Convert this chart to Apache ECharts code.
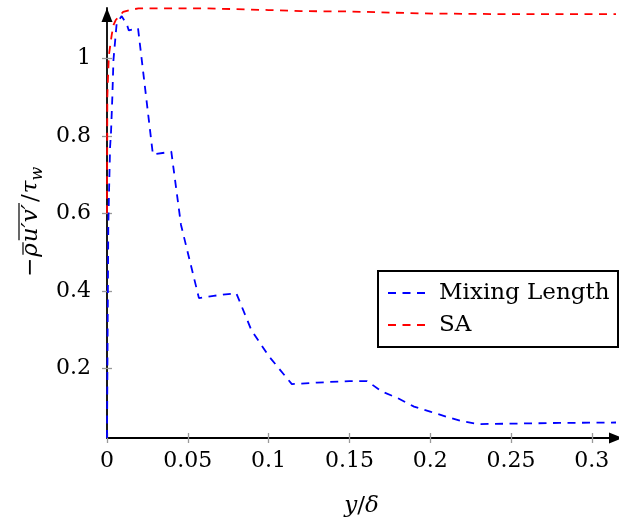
<!DOCTYPE html>
<html>
<head>
<meta charset="utf-8">
<script src="https://cdn.jsdelivr.net/npm/echarts@6/dist/echarts.min.js"></script>
<style>
  html, body { margin: 0; padding: 0; background: #fff; }
  #chart { width: 619px; height: 519px; }
</style>
</head>
<body>
<div id="chart"></div>
<script>
// Tick positions
const xTicks = [0, 0.05, 0.1, 0.15, 0.2, 0.25, 0.3];
const yTicks = [0.2, 0.4, 0.6, 0.8, 1];

// Reynolds shear stress profiles, [y/delta, -rho u'v' / tau_w]
const mixingLength = [
  [0, 0.02], [0.0004, 0.30], [0.0008, 0.565], [0.0012, 0.645], [0.0019, 0.771],
  [0.0025, 0.81], [0.0033, 0.90], [0.004, 0.996], [0.006, 1.091], [0.0091, 1.109],
  [0.0124, 1.086], [0.0135, 1.072], [0.0192, 1.078], [0.0284, 0.752], [0.0398, 0.759],
  [0.0458, 0.57], [0.0569, 0.381], [0.066, 0.387], [0.08, 0.394], [0.0893, 0.299],
  [0.1, 0.232], [0.1144, 0.159], [0.13, 0.163], [0.15, 0.167], [0.161, 0.167],
  [0.17, 0.140], [0.18, 0.123], [0.19, 0.101], [0.2, 0.088], [0.21, 0.075],
  [0.22, 0.063], [0.23, 0.056], [0.25, 0.057], [0.28, 0.059], [0.315, 0.06]
];
const spalartAllmaras = [
  [0, 0.6], [0.0002, 0.9], [0.0008, 0.97], [0.0012, 1.009], [0.0029, 1.06],
  [0.004, 1.086], [0.0054, 1.099], [0.01, 1.12], [0.0142, 1.125], [0.0195, 1.129],
  [0.06, 1.129], [0.08, 1.127], [0.1, 1.1247], [0.12, 1.122], [0.15, 1.121],
  [0.177, 1.118], [0.194, 1.116], [0.25, 1.114], [0.315, 1.114]
];
const seriesNames = ['Mixing Length', 'SA'];

const FONT = '"DejaVu Serif", serif';
const FS = 22;       // tick labels
const FS_TEXT = 23;  // titles and legend
const X_MIN = 0, X_MAX = 0.315, Y_MIN = 0.02, Y_MAX = 1.13;

const measureCtx = document.createElement('canvas').getContext('2d');
function textWidth(str, font) {
  measureCtx.font = font;
  return measureCtx.measureText(str).width;
}

// Rotated y-axis title: −ρ̄ overline(u′v′) / τ_w, laid out piece by piece
function buildYTitle() {
  const up = FS_TEXT + 'px ' + FONT;
  const it = 'italic ' + FS_TEXT + 'px ' + FONT;
  const sub = 'italic 16px ' + FONT;
  const pieces = [
    { s: '−', font: up, pad: 1 },
    { s: 'ρ', font: it, bar: -16, pad: 1 },
    { s: 'u′v′', font: it, bar: -20, pad: 2 },
    { s: '/', font: up, pad: 1 },
    { s: 'τ', font: it, pad: 0 },
    { s: 'w', font: sub, dy: 4, size: 16, pad: 0 }
  ];
  let total = 0;
  pieces.forEach(p => { p.w = textWidth(p.s, p.font); total += p.w + p.pad; });
  let cursor = -total / 2;
  const children = [];
  pieces.forEach(p => {
    const size = p.size || FS_TEXT;
    children.push({
      type: 'text', x: cursor, y: (p.dy || 0) - 0.346 * size,
      style: { text: p.s, font: p.font, fill: '#000', align: 'left', verticalAlign: 'middle',
               textAlign: 'left', textVerticalAlign: 'middle' }
    });
    if (p.bar !== undefined) {
      children.push({
        type: 'line',
        shape: { x1: cursor + 2, y1: p.bar, x2: cursor + p.w + 1, y2: p.bar },
        style: { stroke: '#000', lineWidth: 1.2 }
      });
    }
    cursor += p.w + p.pad;
  });
  return { type: 'group', x: 39, y: 222, rotation: Math.PI / 2, children: children };
}

const legendTextWidth = textWidth(seriesNames[0], FS_TEXT + 'px ' + FONT);

const richName = {
  t: { fontFamily: FONT, fontSize: FS_TEXT, lineHeight: 30, color: '#000' },
  i: { fontFamily: FONT, fontSize: FS_TEXT, lineHeight: 30, fontStyle: 'italic', color: '#000' }
};

const tickStyle = { color: '#999', width: 1.3 };
const labelStyle = { fontFamily: FONT, fontSize: FS, color: '#000' };

const chart = echarts.init(document.getElementById('chart'), null, { renderer: 'canvas' });
chart.setOption({
  animation: false,
  backgroundColor: '#fff',
  grid: { left: 107, right: 3, top: 8, bottom: 81, containLabel: false, outerBoundsMode: 'none' },
  graphic: { elements: [buildYTitle()] },
  xAxis: [
    {
      type: 'value', min: X_MIN, max: X_MAX, position: 'bottom',
      name: '{i|y}{t|/}{i|δ}', nameLocation: 'middle', nameGap: 53,
      nameTextStyle: { rich: richName },
      axisLine: {
        show: true, onZero: false,
        lineStyle: { color: '#000', width: 1.8 },
        symbol: ['none', 'triangle'], symbolSize: [11, 14], symbolOffset: [0, 0]
      },
      axisTick: { show: true, customValues: xTicks, length: 5, inside: false, lineStyle: tickStyle },
      axisLabel: Object.assign({ customValues: xTicks, margin: 12 }, labelStyle),
      splitLine: { show: false }
    },
    {
      type: 'value', min: X_MIN, max: X_MAX, position: 'bottom',
      axisLine: { show: false, onZero: false },
      axisTick: { show: true, customValues: xTicks, length: 5, inside: true, lineStyle: tickStyle },
      axisLabel: { show: false },
      splitLine: { show: false }
    }
  ],
  yAxis: [
    {
      type: 'value', min: Y_MIN, max: Y_MAX, position: 'left',
      axisLine: {
        show: true, onZero: false,
        lineStyle: { color: '#000', width: 1.8 },
        symbol: ['none', 'triangle'], symbolSize: [11, 14], symbolOffset: [0, -7]
      },
      axisTick: { show: true, customValues: yTicks, length: 5, inside: false, lineStyle: tickStyle },
      axisLabel: Object.assign({ customValues: yTicks, margin: 16 }, labelStyle),
      splitLine: { show: false }
    },
    {
      type: 'value', min: Y_MIN, max: Y_MAX, position: 'left',
      axisLine: { show: false, onZero: false },
      axisTick: { show: true, customValues: yTicks, length: 5, inside: true, lineStyle: tickStyle },
      axisLabel: { show: false },
      splitLine: { show: false }
    }
  ],
  legend: {
    orient: 'vertical', left: 378, top: 271,
    padding: [8, Math.max(4, 618 - 438 - legendTextWidth - 1), 8, 9],
    itemGap: 4, itemWidth: 40, itemHeight: 14,
    borderColor: '#000', borderWidth: 2, borderRadius: 0, backgroundColor: '#fff',
    itemStyle: { opacity: 0 },
    textStyle: { fontFamily: FONT, fontSize: FS_TEXT, lineHeight: 28, color: '#000', padding: [0, 0, 0, 6] },
    data: seriesNames
  },
  series: [
    {
      name: seriesNames[0], type: 'line', data: mixingLength,
      symbol: 'none', showSymbol: false, smooth: false, z: 3,
      itemStyle: { color: '#0000ff' },
      lineStyle: { color: '#0000ff', width: 1.8, type: [8, 6.5] }
    },
    {
      name: seriesNames[1], type: 'line', data: spalartAllmaras,
      symbol: 'none', showSymbol: false, smooth: false, z: 3,
      itemStyle: { color: '#ff0000' },
      lineStyle: { color: '#ff0000', width: 1.8, type: [8, 6.5] }
    }
  ]
});
</script>
</body>
</html>
